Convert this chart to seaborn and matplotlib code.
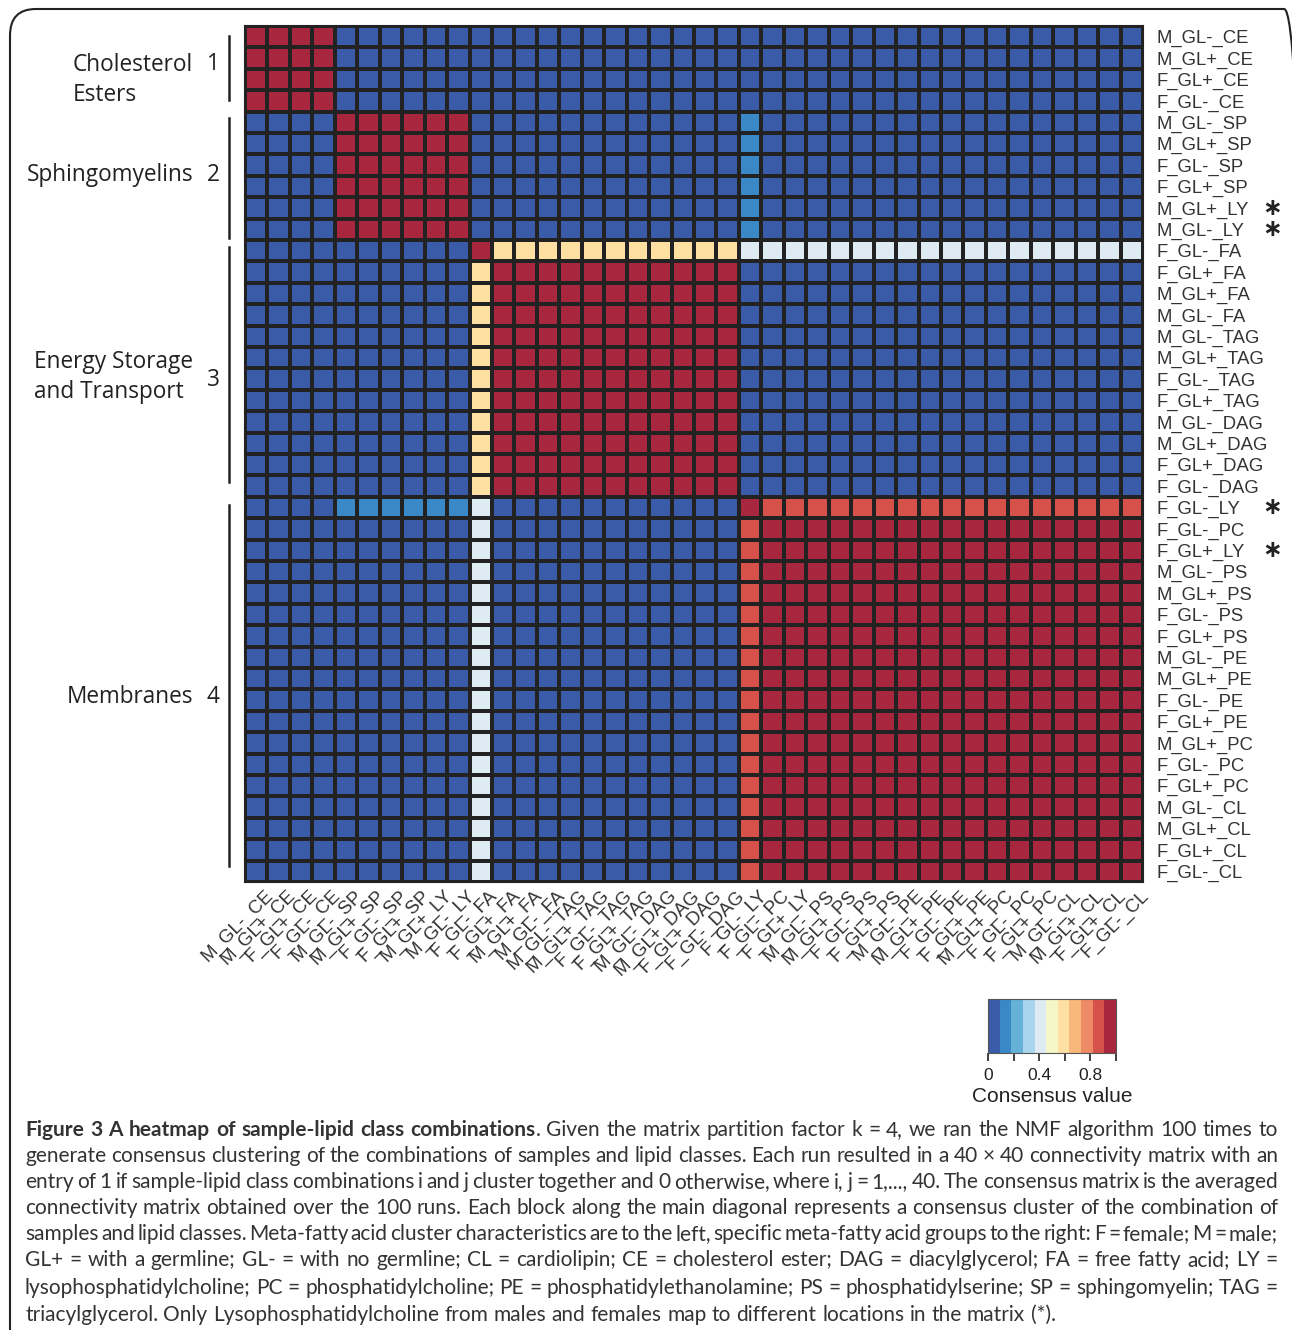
import numpy as np
import pandas as pd
import matplotlib
matplotlib.use("Agg")
import matplotlib.pyplot as plt
import matplotlib.transforms as mtransforms
from matplotlib.colors import ListedColormap
from matplotlib.patches import FancyBboxPatch
from matplotlib.lines import Line2D
import seaborn as sns

# sample-lipid class combinations (rows and columns share the order)
labels = [
    "M_GL-_CE", "M_GL+_CE", "F_GL+_CE", "F_GL-_CE",
    "M_GL-_SP", "M_GL+_SP", "F_GL-_SP", "F_GL+_SP", "M_GL+_LY", "M_GL-_LY",
    "F_GL-_FA",
    "F_GL+_FA", "M_GL+_FA", "M_GL-_FA", "M_GL-_TAG", "M_GL+_TAG", "F_GL-_TAG",
    "F_GL+_TAG", "M_GL-_DAG", "M_GL+_DAG", "F_GL+_DAG", "F_GL-_DAG",
    "F_GL-_LY",
    "F_GL-_PC", "F_GL+_LY", "M_GL-_PS", "M_GL+_PS", "F_GL-_PS", "F_GL+_PS",
    "M_GL-_PE", "M_GL+_PE", "F_GL-_PE", "F_GL+_PE", "M_GL+_PC", "F_GL-_PC",
    "F_GL+_PC", "M_GL-_CL", "M_GL+_CL", "F_GL+_CL", "F_GL-_CL",
]
# consensus group of each row (A..F)
groups = ["A"] * 4 + ["B"] * 6 + ["C"] + ["D"] * 11 + ["E"] + ["F"] * 17
group_names = ["A", "B", "C", "D", "E", "F"]
# averaged connectivity between groups
group_consensus = [
    [1.00, 0.00, 0.00, 0.00, 0.00, 0.00],
    [0.00, 1.00, 0.00, 0.00, 0.13, 0.00],
    [0.00, 0.00, 1.00, 0.60, 0.42, 0.42],
    [0.00, 0.00, 0.60, 1.00, 0.00, 0.00],
    [0.00, 0.13, 0.42, 0.00, 1.00, 0.87],
    [0.00, 0.00, 0.42, 0.00, 0.87, 1.00],
]
starred = ["M_GL+_LY", "M_GL-_LY", "F_GL-_LY", "F_GL+_LY"]

cluster_labels = ["Cholesterol\nEsters", "Sphingomyelins",
                  "Energy Storage\nand Transport", "Membranes"]
cluster_ids = ["1", "2", "3", "4"]

palette = ["#3a5ba7", "#3a88c5", "#66b1d8", "#a8d6ec", "#deebf2", "#f5f5c8",
           "#fde0a2", "#f9b77c", "#ee8a66", "#d5514a", "#a8273f"]

gc = pd.DataFrame(group_consensus, index=group_names, columns=group_names)
mat = gc.loc[groups, groups].to_numpy()
df = pd.DataFrame(mat, index=labels, columns=labels)

W, H = 1292, 1330
fig = plt.figure(figsize=(W / 100, H / 100), dpi=100)


def fx(x):
    return x / W


def fy(y):
    return 1 - y / H


ax = fig.add_axes([fx(245), fy(882), fx(1143) - fx(245), fy(26) - fy(882)])
cax = fig.add_axes([fx(988), fy(1053), fx(1116) - fx(988), fy(999) - fy(1053)])

sns.heatmap(df, ax=ax, cmap=ListedColormap(palette), vmin=0, vmax=1,
            linewidths=1.5, linecolor="#222222", cbar_ax=cax,
            cbar_kws={"orientation": "horizontal",
                      "ticks": [0, 0.2, 0.4, 0.6, 0.8, 1.0]})

for s in ax.spines.values():
    s.set_visible(True)
    s.set_linewidth(1.5)
    s.set_color("#222222")

tick_font = "Liberation Sans"
ax.yaxis.tick_right()
ax.set_yticks(np.arange(len(labels)) + 0.5)
ax.set_yticklabels(labels, rotation=0, fontsize=13.3, color="#333333",
                   family=tick_font)
ax.set_xticks(np.arange(len(labels)) + 0.5)
ax.set_xticklabels(labels, rotation=45, ha="right", rotation_mode="anchor",
                   fontsize=13.5, color="#333333", family=tick_font)
ax.tick_params(axis="both", length=0)
ax.tick_params(axis="y", pad=10)
ax.tick_params(axis="x", pad=2)
shift = mtransforms.ScaledTranslation(8 / 100, -2 / 100, fig.dpi_scale_trans)
for t in ax.get_xticklabels():
    t.set_transform(t.get_transform() + shift)
ax.set_xlabel("")
ax.set_ylabel("")

# asterisks for lysophosphatidylcholine
trans = mtransforms.blended_transform_factory(fig.transFigure, ax.transData)
for name in starred:
    r = labels.index(name)
    ax.text(fx(1272), r + 0.5, "\u2217", transform=trans, ha="center",
            va="center", fontsize=17, weight="bold", color="#222222",
            family="DejaVu Sans")

# colorbar
cb = ax.collections[0].colorbar
cb.set_ticklabels(["0", "", "0.4", "", "0.8", ""])
cb.outline.set_linewidth(0.8)
cb.outline.set_edgecolor("#555555")
cax.tick_params(length=6, width=1.2, color="#222222", labelsize=12.5,
                labelcolor="#222222", pad=5)
for t in cax.get_xticklabels():
    t.set_family(tick_font)
cax.set_xlabel("Consensus value", fontsize=15, family=tick_font,
               color="#222222", labelpad=3)

# cluster annotations on the left
label_y = [80, 175, 377, 697]
id_y = [64, 175, 380, 697]
bars = [(36, 100), (118, 238), (247, 482), (505, 866)]
for lab, ly, cid, iy, (b0, b1) in zip(cluster_labels, label_y, cluster_ids,
                                       id_y, bars):
    fig.text(fx(193), fy(ly), lab, ha="right", va="center", ma="left",
             fontsize=16.3, family="Open Sans", color="#222222",
             linespacing=1.3)
    fig.text(fx(213), fy(iy), cid, ha="center", va="center", fontsize=16.3,
             family="Open Sans", color="#222222")
    fig.add_artist(Line2D([fx(229), fx(229)], [fy(b0), fy(b1)],
                          transform=fig.transFigure, color="#222222", lw=1.8))

# rounded frame
frame = FancyBboxPatch((fx(10), fy(1400)), fx(1310) - fx(10),
                       fy(9) - fy(1400), boxstyle="round,pad=0,rounding_size=0.02",
                       transform=fig.transFigure, fill=False,
                       edgecolor="#222222", lw=1.5, clip_on=False)
fig.add_artist(frame)

# caption, justified like the journal layout
caption_title = "Figure 3 A heatmap of sample-lipid class combinations"
caption_lines = [
    "Given the matrix partition factor k = 4, we ran the NMF algorithm 100 times to",
    "generate consensus clustering of the combinations of samples and lipid classes. Each run resulted in a 40 \u00d7 40 connectivity matrix with an",
    "entry of 1 if sample-lipid class combinations i and j cluster together and 0 otherwise, where i, j = 1,..., 40. The consensus matrix is the averaged",
    "connectivity matrix obtained over the 100 runs. Each block along the main diagonal represents a consensus cluster of the combination of",
    "samples and lipid classes. Meta-fatty acid cluster characteristics are to the left, specific meta-fatty acid groups to the right: F = female; M = male;",
    "GL+ = with a germline; GL- = with no germline; CL = cardiolipin; CE = cholesterol ester; DAG = diacylglycerol; FA = free fatty acid; LY =",
    "lysophosphatidylcholine; PC = phosphatidylcholine; PE = phosphatidylethanolamine; PS = phosphatidylserine; SP = sphingomyelin; TAG =",
    "triacylglycerol. Only Lysophosphatidylcholine from males and females map to different locations in the matrix (*).",
]
line_y = [1130, 1156, 1182, 1208, 1234, 1260, 1288, 1315]
x0, x1 = 25, 1278
cap_size = 15.0
cap_font = "Lato"

renderer = fig.canvas.get_renderer()
probe1 = fig.text(0, 0, "a b", fontsize=cap_size, family=cap_font)
probe2 = fig.text(0, 0, "ab", fontsize=cap_size, family=cap_font)
space_w = (probe1.get_window_extent(renderer).width
           - probe2.get_window_extent(renderer).width)
probe1.remove()
probe2.remove()

for i, (line, yy) in enumerate(zip(caption_lines, line_y)):
    words = [(w, "normal", space_w) for w in line.split(" ")]
    if i == 0:
        title_words = [(w, "bold", space_w) for w in caption_title.split(" ")]
        title_words[-1] = (title_words[-1][0], "bold", 0)
        words = title_words + [(".", "normal", space_w)] + words
    texts, gaps = [], []
    for w, wt, g in words:
        t = fig.text(0, fy(yy), w, ha="left", va="center", fontsize=cap_size,
                     family=cap_font, weight=wt, color="#333333")
        texts.append(t)
        gaps.append(g)
    gaps[-1] = 0
    widths = [t.get_window_extent(renderer).width for t in texts]
    if i < len(caption_lines) - 1:
        n_free = sum(1 for g in gaps if g > 0)
        extra = (x1 - x0 - sum(widths) - sum(gaps)) / max(n_free, 1)
        gaps = [g + extra if g > 0 else g for g in gaps]
    x = x0
    for t, wdt, g in zip(texts, widths, gaps):
        t.set_x(fx(x))
        x += wdt + g

fig.savefig("out.png", dpi=100)
